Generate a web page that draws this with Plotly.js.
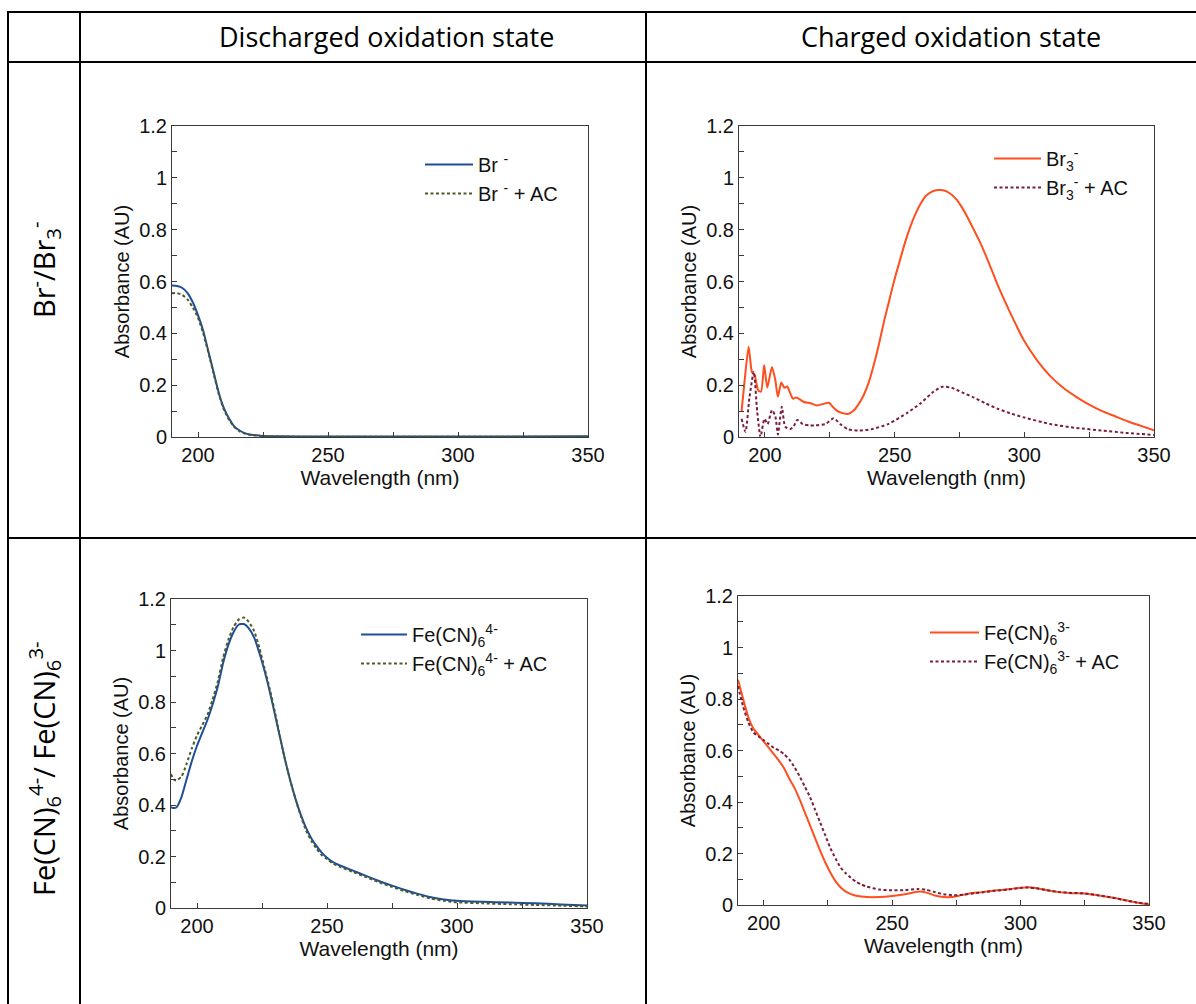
<!DOCTYPE html>
<html>
<head>
<meta charset="utf-8">
<script src="https://cdn.plot.ly/plotly-3.0.1.min.js"></script>
<style>
  html, body { margin: 0; padding: 0; background: #ffffff; }
  #chart { width: 1196px; height: 1004px; }
</style>
</head>
<body>
<div id="chart"></div>
<script>
// ---------------- DATA ----------------
const colHeaders = ["Discharged oxidation state", "Charged oxidation state"];
const rowLabels = ["Br<sup>-</sup>/Br<sub>3</sub><sup>-</sup>",
                   "Fe(CN)<sub>6</sub><sup>4-</sup>/ Fe(CN)<sub>6</sub><sup>3-</sup>"];
const xTitle = "Wavelength (nm)";
const yTitle = "Absorbance (AU)";

// Panel 1: Br- (discharged)
const brWl = [190,192,194,196,198,200,202,204,206,208,210,212,214,216,218,220,224,230,250,300,350];
const brAbs = [0.585,0.583,0.575,0.555,0.52,0.47,0.41,0.33,0.25,0.17,0.11,0.07,0.04,0.025,0.015,0.01,0.005,0.003,0.002,0.002,0.003];
const brAcAbs = [0.555,0.555,0.548,0.53,0.50,0.46,0.40,0.325,0.245,0.165,0.105,0.065,0.038,0.022,0.013,0.008,0.004,0.002,0.001,0.001,0.001];

// Panel 2: Br3- (charged)
const br3Wl = [191,192,193.7,195,196,197.4,198.5,199.7,200.9,202.7,204,205,206.3,207.5,208.6,209.7,210.8,212,213,215,217.6,220.1,222,224.7,226,228,230,232,234,236,238,240,242,244,246,248,250,252,254,256,258,260,262,264,266,268,270,272,274,276,278,280,283,286,290,295,300,305,310,315,320,325,330,335,340,345,350];
const br3Abs = [0.10,0.2,0.348,0.25,0.24,0.18,0.175,0.278,0.19,0.27,0.22,0.155,0.21,0.19,0.195,0.17,0.148,0.152,0.148,0.135,0.13,0.122,0.126,0.132,0.118,0.10,0.092,0.089,0.10,0.125,0.16,0.21,0.28,0.36,0.45,0.53,0.61,0.68,0.75,0.81,0.86,0.90,0.93,0.945,0.952,0.953,0.948,0.935,0.915,0.885,0.85,0.81,0.75,0.68,0.58,0.47,0.37,0.295,0.235,0.19,0.155,0.125,0.10,0.08,0.06,0.043,0.026];
const br3AcWl = [191,192.5,194,195.7,197,198.3,199.8,201,202.7,204,205,206.5,207.8,209.6,211,212.5,214.5,217,219.5,223.3,226.5,229,232,236,241,247.5,255,260,265,268.4,272,276,280,285,290,295,300,310,320,330,340,350];
const br3AcAbs = [0.07,0.02,0.15,0.252,0.1,0.0,0.07,0.05,0.104,0.08,0.01,0.117,0.04,0.03,0.04,0.066,0.05,0.045,0.045,0.05,0.072,0.05,0.03,0.025,0.03,0.05,0.094,0.13,0.175,0.194,0.19,0.172,0.155,0.13,0.108,0.09,0.075,0.05,0.035,0.025,0.015,0.008];

// Panel 3: Fe(CN)6 4- (discharged)
const fe4Wl = [190,191,192,194,196,198,200,202,204,206,208,210,212,214,216,218,220,222,224,226,228,230,232,234,236,238,240,242,244,246,248,250,252,255,260,265,270,275,280,285,290,295,300,310,320,330,340,350];
const fe4Abs = [0.392,0.388,0.39,0.43,0.50,0.57,0.63,0.68,0.73,0.79,0.86,0.95,1.02,1.07,1.10,1.103,1.085,1.05,0.99,0.92,0.84,0.75,0.66,0.57,0.49,0.42,0.36,0.31,0.27,0.24,0.215,0.195,0.18,0.165,0.145,0.125,0.105,0.087,0.07,0.055,0.042,0.033,0.028,0.024,0.021,0.018,0.014,0.01];
const fe4AcAbs = [0.52,0.50,0.495,0.51,0.56,0.62,0.67,0.71,0.75,0.81,0.88,0.97,1.04,1.09,1.12,1.128,1.11,1.075,1.01,0.93,0.85,0.76,0.66,0.57,0.49,0.42,0.355,0.30,0.26,0.23,0.205,0.19,0.175,0.16,0.14,0.12,0.10,0.082,0.065,0.05,0.037,0.028,0.022,0.018,0.015,0.012,0.009,0.006];

// Panel 4: Fe(CN)6 3- (charged)
const fe3Wl = [190,192,194,196,198,200,202,204,206,208,210,212,214,216,218,220,222,224,226,228,230,232,234,236,238,240,245,250,255,258,261,264,267,270,273,276,280,285,290,295,300,303,306,310,315,320,325,330,335,340,345,350];
const fe3Abs = [0.875,0.80,0.73,0.685,0.66,0.635,0.61,0.585,0.56,0.53,0.49,0.455,0.41,0.36,0.31,0.26,0.21,0.165,0.125,0.092,0.068,0.052,0.042,0.036,0.033,0.031,0.031,0.035,0.042,0.048,0.052,0.046,0.036,0.031,0.031,0.036,0.045,0.05,0.056,0.061,0.067,0.069,0.066,0.058,0.05,0.046,0.045,0.038,0.03,0.02,0.01,0.002];
const fe3AcWl = [190,192,194,196,198,200,202,204,206,208,210,212,214,216,218,220,222,224,226,228,230,232,234,236,238,240,245,250,255,260,263,266,270,274,278,282,286,290,295,300,303,306,310,315,320,325,330,335,340,345,350];
const fe3AcAbs = [0.85,0.77,0.71,0.67,0.655,0.64,0.625,0.61,0.60,0.585,0.565,0.535,0.50,0.46,0.42,0.37,0.32,0.27,0.22,0.18,0.145,0.123,0.105,0.09,0.08,0.072,0.06,0.057,0.058,0.062,0.06,0.052,0.042,0.038,0.04,0.046,0.05,0.055,0.06,0.066,0.068,0.065,0.058,0.05,0.047,0.045,0.038,0.03,0.02,0.01,0.004];

const legendNames = [
  ["Br <sup>-</sup>", "Br <sup>-</sup> + AC"],
  ["Br<sub>3</sub><sup>-</sup>", "Br<sub>3</sub><sup>-</sup> + AC"],
  ["Fe(CN)<sub>6</sub><sup>4-</sup>", "Fe(CN)<sub>6</sub><sup>4-</sup> + AC"],
  ["Fe(CN)<sub>6</sub><sup>3-</sup>", "Fe(CN)<sub>6</sub><sup>3-</sup> + AC"]
];

// ---------------- STYLE / LAYOUT ----------------
const W = 1196, H = 1004;
const px = v => v / W;
const py = v => 1 - v / H;

const BLUE = "#1f4e98", OLIVE = "#4d5a28", ORANGE = "#ff4f1f", MAROON = "#7b1d3b";
const DASH = "3px,2.5px";
const FONT = "Liberation Sans, Arial, sans-serif";
const TXT = "#111111";

function solid(c){ return {color: c, width: 2, shape: "spline", smoothing: 0.6}; }
function dashed(c){ return {color: c, width: 2, dash: DASH, shape: "spline", smoothing: 0.6}; }

const traces = [
  {x: brWl, y: brAbs, name: legendNames[0][0], line: solid(BLUE), xaxis: "x", yaxis: "y", legend: "legend"},
  {x: brWl, y: brAcAbs, name: legendNames[0][1], line: dashed(OLIVE), xaxis: "x", yaxis: "y", legend: "legend"},
  {x: br3Wl, y: br3Abs, name: legendNames[1][0], line: solid(ORANGE), xaxis: "x2", yaxis: "y2", legend: "legend2"},
  {x: br3AcWl, y: br3AcAbs, name: legendNames[1][1], line: dashed(MAROON), xaxis: "x2", yaxis: "y2", legend: "legend2"},
  {x: fe4Wl, y: fe4Abs, name: legendNames[2][0], line: solid(BLUE), xaxis: "x3", yaxis: "y3", legend: "legend3"},
  {x: fe4Wl, y: fe4AcAbs, name: legendNames[2][1], line: dashed(OLIVE), xaxis: "x3", yaxis: "y3", legend: "legend3"},
  {x: fe3Wl, y: fe3Abs, name: legendNames[3][0], line: solid(ORANGE), xaxis: "x4", yaxis: "y4", legend: "legend4"},
  {x: fe3AcWl, y: fe3AcAbs, name: legendNames[3][1], line: dashed(MAROON), xaxis: "x4", yaxis: "y4", legend: "legend4"}
].map(t => Object.assign({type: "scatter", mode: "lines", hoverinfo: "skip"}, t));

const AXCOL = "#3a3a3a";
function xax(l, r, anchor){
  return {
    domain: [px(l), px(r)], anchor: anchor, range: [190, 350],
    tick0: 0, dtick: 50, ticks: "inside", ticklen: 5, tickcolor: AXCOL,
    minor: {dtick: 25, tick0: 0, ticks: "inside", ticklen: 5, tickcolor: AXCOL},
    showline: true, linecolor: AXCOL, linewidth: 1, mirror: true,
    showgrid: false, zeroline: false,
    tickfont: {family: FONT, size: 20, color: TXT},
    title: {text: xTitle, font: {family: FONT, size: 21, color: TXT}, standoff: 3},
    fixedrange: true
  };
}
function yax(t, b, anchor){
  return {
    domain: [py(b), py(t)], anchor: anchor, range: [0, 1.2],
    tick0: 0, dtick: 0.2, ticks: "inside", ticklen: 5, tickcolor: AXCOL,
    minor: {dtick: 0.1, tick0: 0, ticks: "inside", ticklen: 5, tickcolor: AXCOL},
    showline: true, linecolor: AXCOL, linewidth: 1, mirror: true,
    showgrid: false, zeroline: false,
    tickfont: {family: FONT, size: 20, color: TXT},
    title: {text: yTitle, font: {family: FONT, size: 20, color: TXT}, standoff: 4},
    fixedrange: true
  };
}
function leg(xLeft, yTop, iw){
  return {x: px(xLeft), y: py(yTop), xanchor: "left", yanchor: "top",
          bgcolor: "rgba(0,0,0,0)", borderwidth: 0, itemwidth: iw, tracegroupgap: 0,
          font: {family: FONT, size: 20, color: TXT}};
}

// table lines (pixel positions)
const LW = 2;
function hline(y, x0, x1){ return {type: "line", xref: "paper", yref: "paper", x0: px(x0), x1: px(x1), y0: py(y), y1: py(y), line: {color: "#000", width: LW}}; }
function vline(x, y0, y1){ return {type: "line", xref: "paper", yref: "paper", x0: px(x), x1: px(x), y0: py(y0), y1: py(y1), line: {color: "#000", width: LW}}; }

const shapes = [
  hline(12, 7, 1196), hline(62, 7, 1196), hline(538, 7, 1196),
  vline(8, 11, 1004), vline(80, 11, 1004), vline(646, 11, 1004)
];

const HFONT = "Open Sans, Noto Sans, sans-serif";
const annotations = [
  {text: colHeaders[0], x: px(386), y: py(37), xref: "paper", yref: "paper", showarrow: false, xanchor: "center", yanchor: "middle", font: {family: HFONT, size: 27, color: "#000"}},
  {text: colHeaders[1], x: px(951), y: py(37), xref: "paper", yref: "paper", showarrow: false, xanchor: "center", yanchor: "middle", font: {family: HFONT, size: 27, color: "#000"}},
  {text: rowLabels[0], x: px(44), y: py(270), xref: "paper", yref: "paper", showarrow: false, textangle: -90, xanchor: "center", yanchor: "middle", font: {family: HFONT, size: 29, color: "#000"}},
  {text: rowLabels[1], x: px(44), y: py(769), xref: "paper", yref: "paper", showarrow: false, textangle: -90, xanchor: "center", yanchor: "middle", font: {family: HFONT, size: 29, color: "#000"}}
];

const layout = {
  width: W, height: H,
  margin: {l: 0, r: 0, t: 0, b: 0},
  paper_bgcolor: "#ffffff", plot_bgcolor: "#ffffff",
  font: {family: FONT, color: TXT},
  showlegend: true,
  xaxis: xax(172, 588, "y"),   yaxis: yax(126, 437, "x"),
  xaxis2: xax(739, 1154, "y2"), yaxis2: yax(126, 437, "x2"),
  xaxis3: xax(171, 587, "y3"), yaxis3: yax(599, 908, "x3"),
  xaxis4: xax(738, 1149, "y4"), yaxis4: yax(596, 905, "x4"),
  legend: leg(420, 145, 48), legend2: leg(989, 139, 47),
  legend3: leg(356, 615, 46), legend4: leg(925, 613, 49),
  shapes: shapes,
  annotations: annotations
};

Plotly.newPlot("chart", traces, layout, {staticPlot: true, displayModeBar: false});
</script>
</body>
</html>
